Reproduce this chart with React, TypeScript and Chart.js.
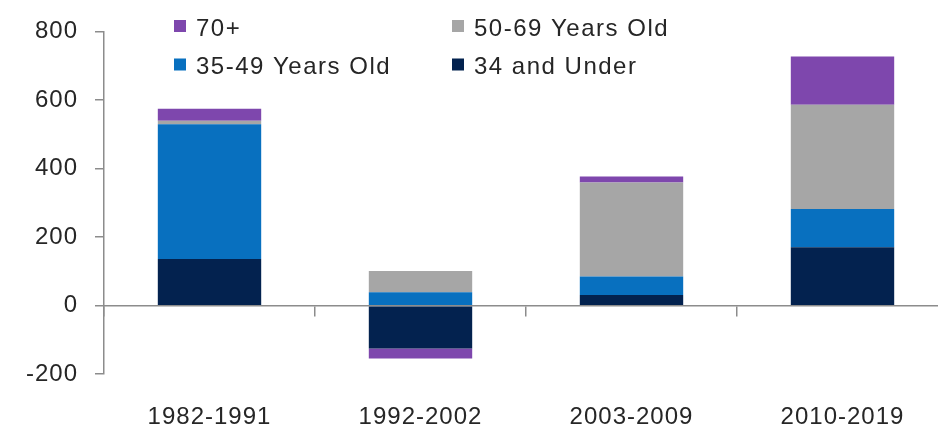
import { useEffect, useRef } from "react";
import { Chart, registerables } from "chart.js";

Chart.register(...registerables);

// Net change by age group across four periods
const periods = ["1982-1991", "1992-2002", "2003-2009", "2010-2019"];
const under34 = [136, -125, 31, 170];
const age35to49 = [393, 39, 54, 112];
const age50to69 = [10, 62, 274, 304];
const age70plus = [35, -29, 18, 141];

const yMin = -200;
const yMax = 800;
const yStep = 200;

const seriesLabels = ["34 and Under", "35-49 Years Old", "50-69 Years Old", "70+"];
const seriesColors = ["#03224f", "#0870bf", "#a6a6a6", "#7e47ad"];
// legend reads row by row in two columns
const legendOrder = ["70+", "50-69 Years Old", "35-49 Years Old", "34 and Under"];

const FONT_FAMILY = "'Liberation Sans', Arial, sans-serif";
const FONT_SIZE = 24;
const TEXT_COLOR = "#262626";
const AXIS_COLOR = "#8c8c8c";

// a little tracking on every label drawn by the chart
const textTracking = {
  id: "textTracking",
  beforeDraw(chart: any) {
    (chart.ctx as any).letterSpacing = "1px";
  },
};

const gridLegend = {
  id: "gridLegend",
  afterDraw(chart: any) {
    const ctx = chart.ctx as CanvasRenderingContext2D;
    const cols = [174, 452];
    const rows = [26, 64.5];
    const box = 12;
    ctx.save();
    (ctx as any).letterSpacing = "1.5px";
    ctx.font = `${FONT_SIZE}px ${FONT_FAMILY}`;
    ctx.textBaseline = "middle";
    ctx.textAlign = "left";
    legendOrder.forEach((label, i) => {
      const ds = chart.data.datasets.find((d: any) => d.label === label);
      if (!ds) return;
      const x = cols[i % 2];
      const y = rows[Math.floor(i / 2)];
      ctx.fillStyle = ds.backgroundColor;
      ctx.fillRect(x, y - box / 2, box, box);
      ctx.fillStyle = TEXT_COLOR;
      ctx.fillText(label, x + 22, y + 3);
    });
    ctx.restore();
  },
};

export default function App() {
  const canvasRef = useRef<HTMLCanvasElement | null>(null);

  useEffect(() => {
    if (!canvasRef.current) return;
    const values = [under34, age35to49, age50to69, age70plus];
    const chart = new Chart(canvasRef.current, {
      type: "bar",
      data: {
        labels: periods,
        datasets: values.map((data, i) => ({
          label: seriesLabels[i],
          data,
          backgroundColor: seriesColors[i],
          borderWidth: 0,
          barPercentage: 0.49,
          categoryPercentage: 1,
          xAxisID: "x",
          yAxisID: "y",
        })),
      },
      options: {
        responsive: false,
        animation: false,
        devicePixelRatio: 1,
        layout: { padding: { top: 27, right: 2, left: 0, bottom: 0 } },
        plugins: {
          legend: { display: false },
          tooltip: { enabled: false },
        },
        scales: {
          // zero line with separators between periods
          x: {
            type: "category",
            stacked: true,
            offset: true,
            position: { y: 0 } as any,
            grid: {
              display: true,
              offset: true,
              drawOnChartArea: false,
              drawTicks: true,
              tickLength: 10,
              color: AXIS_COLOR,
              lineWidth: 1.5,
            },
            border: { display: true, color: AXIS_COLOR, width: 1.5 },
            ticks: { display: false },
          },
          // period labels along the bottom
          x2: {
            type: "category",
            labels: periods,
            offset: true,
            position: "bottom",
            grid: { display: false },
            border: { display: false },
            ticks: {
              padding: 21,
              autoSkip: false,
              maxRotation: 0,
              color: TEXT_COLOR,
              font: { family: FONT_FAMILY, size: FONT_SIZE },
            },
          },
          y: {
            type: "linear",
            stacked: true,
            min: yMin,
            max: yMax,
            afterFit(scale: any) {
              scale.width = 104;
            },
            grid: {
              display: true,
              drawOnChartArea: false,
              drawTicks: true,
              tickLength: 9,
              color: AXIS_COLOR,
              lineWidth: 1.5,
            },
            border: { display: true, color: AXIS_COLOR, width: 1.5 },
            ticks: {
              stepSize: yStep,
              padding: 17,
              color: TEXT_COLOR,
              font: { family: FONT_FAMILY, size: FONT_SIZE },
            },
          },
        },
      },
      plugins: [textTracking, gridLegend],
    });
    return () => chart.destroy();
  }, []);

  return (
    <div
      style={{
        position: "fixed",
        left: 0,
        top: 0,
        width: 938,
        height: 426,
        overflow: "hidden",
        background: "#ffffff",
      }}
    >
      <canvas ref={canvasRef} width={950} height={453} style={{ display: "block" }} />
    </div>
  );
}
